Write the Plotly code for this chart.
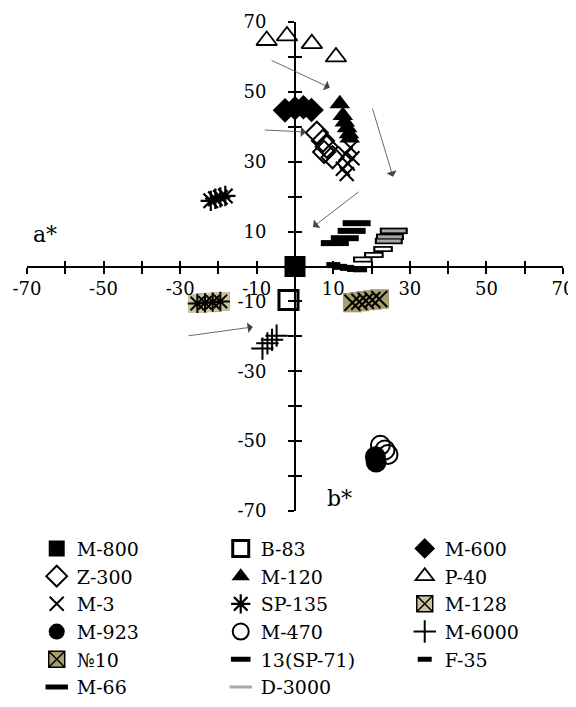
import plotly.graph_objects as go

# ---------------- data (a*, b*) ----------------
m800_x = [0.0];   m800_y = [0.0]
b83_x = [-1.7];   b83_y = [-9.6]
m600_x = [-2.6, 0.0, 2.2, 4.3];   m600_y = [44.7, 45.3, 45.6, 44.8]
z300_x = [5.7, 7.3, 8.3, 7.6, 9.8];   z300_y = [38.3, 36.0, 34.3, 32.8, 31.3]
m120_x = [11.7, 12.5, 13.0, 13.6, 14.1, 14.3];   m120_y = [46.6, 43.2, 41.4, 39.7, 38.0, 36.8]
p40_x = [-7.4, -2.1, 4.4, 10.7];   p40_y = [64.7, 66.0, 63.8, 60.0]
m3_x = [14.5, 13.2, 15.0, 13.8, 12.5, 13.5];   m3_y = [34.0, 32.2, 31.0, 29.5, 28.0, 26.5]
sp135_x = [-22.0, -20.8, -19.5, -18.2];   sp135_y = [18.8, 19.4, 19.8, 20.2]
m128_x = [-25.5, -23.5, -21.5, -19.5];   m128_y = [-10.6, -10.4, -10.2, -10.0]
m923_x = [21.0, 21.2];   m923_y = [-54.5, -56.0]
m470_x = [22.3, 24.3, 23.5];   m470_y = [-51.2, -53.8, -52.5]
m6000_x = [-8.5, -7.2, -6.0, -4.8];   m6000_y = [-23.5, -22.0, -21.0, -19.8]
n10_x = [15.0, 16.8, 18.5, 20.2, 22.0];   n10_y = [-10.4, -10.1, -9.8, -9.6, -9.3]
sp71_x = [17.7, 20.6, 23.0];   sp71_y = [2.0, 3.3, 5.0]
f35_x = [10.0, 11.8, 13.6, 15.4, 17.0];   f35_y = [0.4, -0.1, -0.4, -0.7, -0.8]
m66_x = [10.4, 13.0, 14.8, 16.1];   m66_y = [6.7, 8.1, 10.2, 12.4]
d3000_x = [24.5, 24.8, 25.8];   d3000_y = [7.3, 8.5, 10.2]

tick_vals = [-70, -60, -50, -40, -30, -20, -10, 10, 20, 30, 40, 50, 60, 70]
tick_text = ["-70", "", "-50", "", "-30", "", "-10", "10", "", "30", "", "50", "", "70"]

# arrows: (tail_x, tail_y, head_x, head_y)
arrows = [(-6.5, 59.2, 9.1, 51.2),
          (-8.3, 39.1, 2.9, 38.5),
          (20.1, 45.7, 25.6, 25.7),
          (17.0, 21.7, 4.7, 11.3),
          (-28.2, -19.9, -11.0, -17.3)]

TAN_LIGHT = "#CBC29F"
TAN_DARK = "#A89E6E"

fig = go.Figure()


def add(x, y, name, symbol, size, color="black", lw=0, lcolor="black",
        showlegend=True, rank=None, group=None, xa="x", ya="y"):
    fig.add_trace(go.Scatter(
        x=x, y=y, mode="markers", name=name, showlegend=showlegend,
        legendgroup=group or name, legendrank=rank if rank else 1000,
        xaxis=xa, yaxis=ya, cliponaxis=False, hoverinfo="x+y+name",
        marker=dict(symbol=symbol, size=size, color=color,
                    line=dict(width=lw, color=lcolor))))


# draw order (legend order controlled by legendrank)
add(m800_x, m800_y, "M-800", "square", 21, rank=1, xa="x2", ya="y2")
add(b83_x, b83_y, "B-83", "square-open", 19, lw=3, rank=2)
add(m600_x, m600_y, "M-600", "diamond", 19, rank=3)
add(z300_x, z300_y, "Z-300", "diamond-open", 17, lw=2, rank=4)
add(m120_x, m120_y, "M-120", "triangle-up", 18, rank=5)
add(p40_x, p40_y, "P-40", "triangle-up-open", 18, lw=1.8, rank=6)
add(m3_x, m3_y, "M-3", "x-thin-open", 14, lw=2, rank=7)
add(sp135_x, sp135_y, "SP-135", "asterisk-open", 17, lw=2.2, rank=8)
# M-128: tan squares with asterisks
add(m128_x, m128_y, "M-128", "square-x", 17, color=TAN_LIGHT, lw=1.5, rank=9)
add(m128_x, m128_y, "M-128", "square", 19, color=TAN_LIGHT, lw=0, showlegend=False)
add(m128_x, m128_y, "M-128", "asterisk-open", 16, lw=2, showlegend=False)
add(m923_x, m923_y, "M-923", "circle", 21, rank=10)
add(m470_x, m470_y, "M-470", "circle-open", 19, lw=2, rank=11)
add(m6000_x, m6000_y, "M-6000", "cross-thin-open", 16, lw=2, rank=12)
# No10: tan squares with x
add(n10_x, n10_y, "№10", "square-x", 17, color=TAN_DARK, lw=1.5, rank=13)
add(n10_x, n10_y, "№10", "square", 19, color=TAN_DARK, lw=0, showlegend=False)
add(n10_x, n10_y, "№10", "x-thin-open", 16, lw=2, showlegend=False)
# rectangles (open symbols take their stroke colour from marker.color)
add(sp71_x, sp71_y, "13(SP-71)", "line-ew-open", 14, lw=6, rank=14)
add(sp71_x, sp71_y, "13(SP-71)", "line-ew-open", 11, color="white", lw=2.5, showlegend=False)
add(f35_x, f35_y, "F-35", "line-ew-open", 10, lw=6, rank=15)
add(m66_x, m66_y, "M-66", "line-ew-open", 20, lw=6, rank=16)
add(d3000_x, d3000_y, "D-3000", "line-ew-open", 20, lw=6.5, showlegend=False, group="D-3000")
add(d3000_x, d3000_y, "D-3000", "line-ew-open", 17, color="#A8A8A8", lw=3, rank=17, group="D-3000")

annotations = []
for tx, ty, hx, hy in arrows:
    annotations.append(dict(x=hx, y=hy, ax=tx, ay=ty, xref="x", yref="y",
                            axref="x", ayref="y", text="", showarrow=True,
                            arrowhead=1, arrowsize=2.2, arrowwidth=0.8,
                            arrowcolor="#444444"))
annotations.append(dict(x=-65.4, y=9.3, xref="x", yref="y", text="a*",
                        showarrow=False, font=dict(size=22)))
annotations.append(dict(x=11.5, y=-66.3, xref="x", yref="y", text="b*",
                        showarrow=False, font=dict(size=22)))

axis_common = dict(range=[-70, 70], showgrid=False, zeroline=False,
                   anchor="free", position=0.5)

# the page body has an 8px default margin, so the figure is sized to fit
fig.update_layout(
    width=568, height=699,
    margin=dict(l=19, r=13, t=14, b=196, autoexpand=False),
    plot_bgcolor="white", paper_bgcolor="white",
    font=dict(family="DejaVu Serif", color="black", size=19),
    xaxis=dict(**axis_common, domain=[0, 1], showline=True, linecolor="black",
               linewidth=2, tickmode="array", tickvals=tick_vals, ticktext=tick_text,
               ticks="outside", ticklen=6, tickwidth=2, tickcolor="black",
               tickfont=dict(size=18), ticklabelstandoff=0),
    yaxis=dict(**axis_common, domain=[0, 1], showline=True, linecolor="black",
               linewidth=2, tickmode="array", tickvals=tick_vals, ticktext=tick_text,
               ticks="outside", ticklen=6, tickwidth=2, tickcolor="black",
               tickfont=dict(size=18), ticklabelstandoff=18),
    xaxis2=dict(**axis_common, overlaying="x", showline=False, tickmode="array",
                tickvals=tick_vals, ticks="inside", ticklen=6, tickwidth=2,
                tickcolor="black", showticklabels=False),
    yaxis2=dict(**axis_common, overlaying="y", showline=False, tickmode="array",
                tickvals=tick_vals, ticks="inside", ticklen=6, tickwidth=2,
                tickcolor="black", showticklabels=False),
    legend=dict(orientation="h", x=1.048, xanchor="right", y=-0.038, yanchor="top",
                entrywidth=139, entrywidthmode="pixels", font=dict(size=19),
                itemsizing="trace", traceorder="normal", tracegroupgap=0,
                bgcolor="rgba(0,0,0,0)"),
    annotations=annotations,
    showlegend=True,
)

fig.write_html("out.html")
